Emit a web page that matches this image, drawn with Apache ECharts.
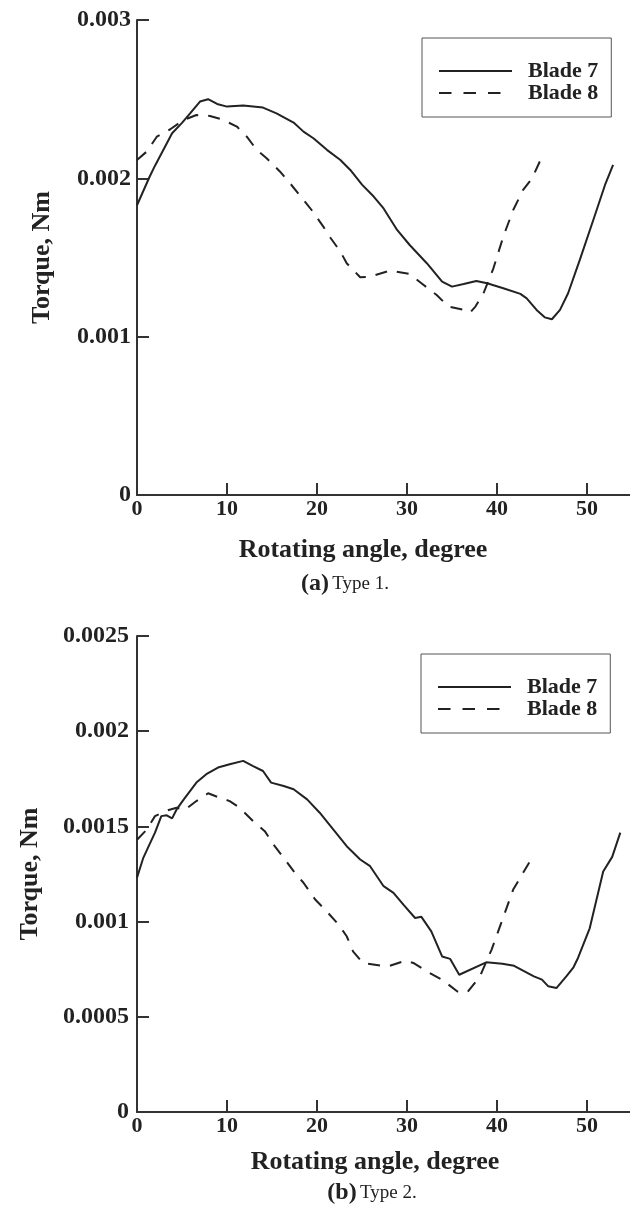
<!DOCTYPE html>
<html>
<head>
<meta charset="utf-8">
<script src="https://cdn.jsdelivr.net/npm/echarts@6/dist/echarts.min.js"></script>
<style>
  html, body { margin: 0; padding: 0; background: #fff; }
  #chart { width: 630px; height: 1205px; }
</style>
</head>
<body>
<div id="chart"></div>
<script>
// (a) Type 1 — blade 7 and blade 8, angle in degree, torque in Nm
const angle7a = [0, 1.4, 2, 3.9, 5, 5.9, 7, 7.9, 8.9, 10, 11.8, 14, 15.5, 17.4, 18.5, 19.6, 21.1, 22.6, 23.7, 25,
  26.3, 27.4, 28.9, 30.3, 32.2, 33.9, 35, 36.3, 37.7, 38.9, 40.7, 42.6, 43.3, 44.4, 45.3, 46.1, 47, 47.9, 49.2, 50.7, 52, 52.9];
const torque7a = [0.00183, 0.00201, 0.00208, 0.002285, 0.00235, 0.00241, 0.002485, 0.0025, 0.00247, 0.002453, 0.00246, 0.002447,
  0.00241, 0.002352, 0.002295, 0.002253, 0.00218, 0.002116, 0.002053, 0.00196, 0.001885, 0.00181, 0.001674, 0.001579, 0.001464,
  0.001348, 0.001316, 0.001333, 0.001352, 0.001337, 0.001306, 0.00127, 0.001242, 0.001169, 0.001122, 0.00111, 0.001169,
  0.001274, 0.001485, 0.001737, 0.001958, 0.002085];
const angle8a = [0, 1.1, 2.2, 3.7, 5.2, 6.6, 8.1, 9.4, 11.1, 12.2, 13.3, 14.4, 15.9, 17, 18.5, 19.4, 20.7, 21.4, 22.6, 23.3,
  24.8, 25.9, 28.1, 30.3, 31.6, 33.3, 34.6, 36.3, 37, 37.6, 38.5, 39.6, 40.7, 41.8, 42.9, 43.9, 44.8];
const torque8a = [0.002116, 0.00217, 0.002263, 0.00231, 0.002369, 0.0024, 0.002394, 0.002373, 0.002327, 0.002263, 0.00218,
  0.002127, 0.002042, 0.001969, 0.001864, 0.0018, 0.001695, 0.001632, 0.001537, 0.001464, 0.001375, 0.001379, 0.001417,
  0.001396, 0.001337, 0.001263, 0.00119, 0.001169, 0.001152, 0.00119, 0.001274, 0.001432, 0.001632, 0.0018, 0.001927,
  0.002, 0.002112];

// (b) Type 2
const angle7b = [0, 0.7, 1.3, 2, 2.7, 3.3, 3.9, 4.4, 5.2, 6.6, 7.7, 9, 10.3, 11.8, 12.9, 14, 14.9, 16.3, 17.4, 18.9, 20.3,
  21.8, 23.3, 24.8, 25.9, 27.4, 28.5, 29.6, 30.9, 31.6, 32.7, 33.9, 34.8, 35.8, 38.8, 40.6, 41.9, 44.1, 45, 45.7, 46.6,
  47.7, 48.5, 49, 50.3, 51.8, 52.8, 53.7];
const torque7b = [0.00123, 0.001335, 0.001396, 0.001467, 0.001554, 0.001558, 0.001542, 0.001589, 0.001642, 0.00173, 0.001774,
  0.001809, 0.001826, 0.001844, 0.001817, 0.001791, 0.00173, 0.001712, 0.001695, 0.001642, 0.001572, 0.001484, 0.001396,
  0.001326, 0.001291, 0.001186, 0.001151, 0.001089, 0.001019, 0.001025, 0.000949, 0.000817, 0.000804, 0.000721, 0.000786,
  0.000779, 0.000768, 0.000712, 0.000695, 0.00066, 0.000651, 0.000712, 0.00076, 0.000809, 0.000965, 0.001263, 0.00134, 0.001467];
const angle8b = [0, 1.1, 2, 3.1, 4.4, 5.3, 6.6, 7.9, 8.9, 10.3, 11.4, 12.9, 14.2, 15.3, 16.3, 17.4, 18.5, 19.8, 20.9, 22.4,
  23.3, 24, 25.1, 27.2, 28.1, 29.8, 30.7, 32.5, 33.9, 35.6, 36.7, 38.1, 39.4, 40.6, 41.8, 42.9, 43.9];
const torque8b = [0.00143, 0.001484, 0.001554, 0.00158, 0.001598, 0.001586, 0.001633, 0.001674, 0.001656, 0.001633, 0.001598,
  0.001528, 0.001475, 0.001396, 0.001335, 0.001265, 0.001204, 0.001116, 0.001063, 0.000984, 0.000923, 0.000844, 0.000783,
  0.000768, 0.000768, 0.000795, 0.000783, 0.00073, 0.000695, 0.000633, 0.000628, 0.000712, 0.000853, 0.00101, 0.001168,
  0.001256, 0.001335];

const xTicks = { min: 0, max: 55, interval: 10 };
const yTicksA = { min: 0, max: 0.003, interval: 0.001 };
const yTicksB = { min: 0, max: 0.0025, interval: 0.0005 };

const serif = "'Liberation Serif', 'Times New Roman', serif";
const ink = "#222";
const axisInk = "#333";

const pairs = (xs, ys) => xs.map((x, i) => [x, ys[i]]);

function xAxisFor(gridIndex, shift, gap) {
  return {
    type: "value", gridIndex, ...xTicks,
    name: "Rotating angle, degree",
    nameLocation: "middle", nameGap: gap,
    nameTextStyle: { fontFamily: serif, fontWeight: "bold", fontSize: 26, color: ink, padding: [0, shift, 0, 0] },
    axisLine: { show: true, onZero: false, lineStyle: { color: axisInk, width: 2 } },
    axisTick: { show: true, inside: true, length: 12, lineStyle: { color: axisInk, width: 2 } },
    axisLabel: { fontFamily: serif, fontWeight: "bold", fontSize: 22, color: ink, margin: 3,
      showMaxLabel: false },
    splitLine: { show: false }
  };
}

function yAxisFor(gridIndex, ticks, gap, labelMargin) {
  return {
    type: "value", gridIndex, ...ticks,
    name: "Torque, Nm",
    nameLocation: "middle", nameGap: gap, nameRotate: 90,
    nameTextStyle: { fontFamily: serif, fontWeight: "bold", fontSize: 26, color: ink },
    axisLine: { show: true, onZero: false, lineStyle: { color: axisInk, width: 2 } },
    axisTick: { show: true, inside: true, length: 12, lineStyle: { color: axisInk, width: 2 } },
    axisLabel: { fontFamily: serif, fontWeight: "bold", fontSize: 24, color: ink, margin: labelMargin },
    splitLine: { show: false }
  };
}

function lineSeries(name, idx, data, dashed) {
  return {
    type: "line", name, xAxisIndex: idx, yAxisIndex: idx,
    data, symbol: "none", showSymbol: false, smooth: false,
    lineStyle: { color: ink, width: 2, type: dashed ? [12, 10] : "solid" },
    itemStyle: { color: ink }
  };
}

function legendFor(left, top) {
  return {
    orient: "vertical", left, top,
    data: [
      { name: "Blade 7", lineStyle: { type: "solid" } },
      { name: "Blade 8", lineStyle: { type: [12.5, 12] } }
    ],
    itemWidth: 73, itemHeight: 14, itemGap: 0,
    itemStyle: { color: "rgba(0,0,0,0)", borderColor: "rgba(0,0,0,0)", borderWidth: 0 },
    lineStyle: { color: ink, width: 2 },
    padding: [22, 13, 13, 16],
    borderColor: "#555", borderWidth: 1, backgroundColor: "#fff",
    textStyle: { fontFamily: serif, fontWeight: "bold", fontSize: 22, color: ink, padding: [0, 0, 0, 11] }
  };
}

const option = {
  animation: false,
  backgroundColor: "#fff",
  grid: [
    { left: 137, top: 20, width: 495, height: 475, outerBoundsMode: "none", containLabel: false },
    { left: 137, top: 636, width: 495, height: 476, outerBoundsMode: "none", containLabel: false }
  ],
  xAxis: [xAxisFor(0, 43, 42), xAxisFor(1, 19, 37)],
  yAxis: [yAxisFor(0, yTicksA, 82, 6), yAxisFor(1, yTicksB, 94, 8)],
  legend: [legendFor(422, 38), legendFor(421, 654)],
  series: [
    lineSeries("Blade 7", 0, pairs(angle7a, torque7a), false),
    lineSeries("Blade 8", 0, pairs(angle8a, torque8a), true),
    lineSeries("Blade 7", 1, pairs(angle7b, torque7b), false),
    lineSeries("Blade 8", 1, pairs(angle8b, torque8b), true)
  ],
  graphic: [
    { type: "text", x: 345, y: 584, style: {
      text: "{b|(a)} {r|Type 1.}", align: "center", verticalAlign: "middle",
      rich: { b: { fontFamily: serif, fontWeight: "bold", fontSize: 24, fill: ink },
              r: { fontFamily: serif, fontSize: 19, fill: ink } } } },
    { type: "text", x: 372, y: 1193, style: {
      text: "{b|(b)} {r|Type 2.}", align: "center", verticalAlign: "middle",
      rich: { b: { fontFamily: serif, fontWeight: "bold", fontSize: 24, fill: ink },
              r: { fontFamily: serif, fontSize: 19, fill: ink } } } }
  ]
};

const chart = echarts.init(document.getElementById("chart"));
chart.setOption(option);
window.addEventListener("resize", () => chart.resize());
</script>
</body>
</html>
